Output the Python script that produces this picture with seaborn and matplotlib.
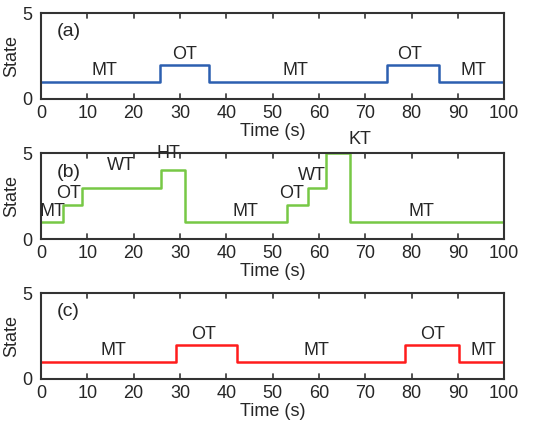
import matplotlib
matplotlib.use("Agg")
import matplotlib.pyplot as plt
import seaborn as sns
import pandas as pd

# panel (a)
time_a = [0, 25.8, 36.2, 74.8, 86.0, 100]
state_a = [1, 2, 1, 2, 1, 1]
labels_a = ["MT", "OT", "MT", "OT", "MT"]
label_x_a = [13.8, 30.9, 54.9, 79.5, 93.3]
label_y_a = [1.63, 2.6, 1.63, 2.6, 1.63]

# panel (b)
time_b = [0, 4.7, 8.8, 25.9, 31.2, 53.1, 57.7, 61.5, 66.7, 100]
state_b = [1, 2, 3, 4, 1, 2, 3, 5, 1, 1]
labels_b = ["MT", "OT", "WT", "HT", "MT", "OT", "WT", "KT", "MT"]
label_x_b = [2.5, 6.0, 17.2, 27.5, 44.1, 54.1, 58.5, 68.8, 82.2]
label_y_b = [1.6, 2.66, 4.3, 4.98, 1.6, 2.66, 3.72, 5.8, 1.6]

# panel (c)
time_c = [0, 29.2, 42.4, 78.7, 90.3, 100]
state_c = [1, 2, 1, 2, 1, 1]
labels_c = ["MT", "OT", "MT", "OT", "MT"]
label_x_c = [15.6, 35.2, 59.4, 84.5, 95.5]
label_y_c = [1.63, 2.6, 1.63, 2.6, 1.63]

sns.set_style("white")
plt.rcParams['font.family'] = ['Liberation Sans', 'DejaVu Sans']

panels = [
    ("(a)", time_a, state_a, labels_a, label_x_a, label_y_a, "#2c5fb0", 0.765),
    ("(b)", time_b, state_b, labels_b, label_x_b, label_y_b, "#77c845", 0.432),
    ("(c)", time_c, state_c, labels_c, label_x_c, label_y_c, "#ff1c1c", 0.0998),
]

fig = plt.figure(figsize=(5.54, 4.21), dpi=100)
for tag, t, s, labs, lx, ly, color, bottom in panels:
    ax = fig.add_axes([0.074, bottom, 0.836, 0.204])
    df = pd.DataFrame({"Time": t, "State": s})
    sns.lineplot(data=df, x="Time", y="State", drawstyle="steps-post",
                 color=color, linewidth=1.8, ax=ax)
    ax.set_xlim(0, 100)
    ax.set_ylim(0, 5)
    ax.set_xticks(range(0, 101, 10))
    ax.set_yticks([0, 5])
    ax.tick_params(axis="y", left=False, labelsize=13, pad=3)
    ax.tick_params(axis="x", labelsize=13, pad=1)
    for sp in ax.spines.values():
        sp.set_color("#333333")
        sp.set_linewidth(1.5)
    # tick marks pointing inward on the top and bottom edges
    for xt in ax.get_xticks()[1:-1]:
        ax.axvline(xt, ymin=0, ymax=0.06, color="#444444", linewidth=1.3)
        ax.axvline(xt, ymin=0.94, ymax=1, color="#444444", linewidth=1.3)
    ax.set_xlabel("Time (s)", fontsize=13, labelpad=0.5)
    ax.set_ylabel("State", fontsize=13, labelpad=1)
    ax.text(3.5, 3.9, tag, fontsize=14, ha="left", va="center")
    for lab, x, y in zip(labs, lx, ly):
        ax.text(x, y, lab, fontsize=13, ha="center", va="center", clip_on=False)

fig.savefig("out.png", dpi=100)
